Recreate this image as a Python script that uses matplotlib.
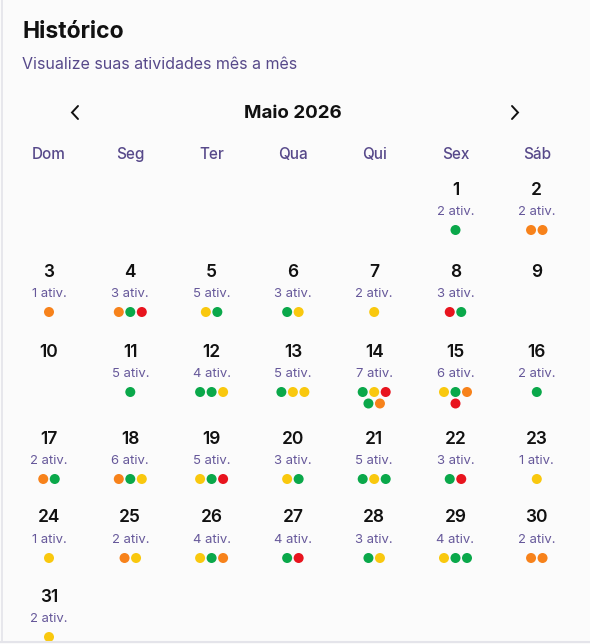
import calendar
import matplotlib
matplotlib.use("Agg")
import matplotlib.pyplot as plt
from matplotlib.patches import Circle

plt.rcParams['font.family'] = ['Inter', 'DejaVu Sans']

# ---- data ----
title = "Histórico"
subtitle = "Visualize suas atividades mês a mês"
month_label = "Maio 2026"
year, month = 2026, 5
weekdays = ["Dom", "Seg", "Ter", "Qua", "Qui", "Sex", "Sáb"]

# activities per day (0 = nothing shown)
counts = [2, 2, 1, 3, 5, 3, 2, 3, 0, 0, 5, 4, 5, 7, 6, 2,
          2, 6, 5, 3, 5, 3, 1, 1, 2, 4, 4, 3, 4, 2, 2]

# G = green, Y = yellow, O = orange, R = red
dots = ["G", "OO", "O", "OGR", "YG", "GY", "Y", "RG", "", "", "G", "GGY",
        "GYY", "GYRGO", "YGOR", "G", "OG", "OGY", "YGR", "YG", "GYG", "GR",
        "Y", "Y", "OY", "YGO", "GR", "GY", "YGG", "OO", "Y"]

dot_colors = {"G": "#0aa84a", "Y": "#f9c80e", "O": "#f7821b", "R": "#e8141e"}

# ---- layout ----
W, H = 590, 644
col_x = [49 + 81.3 * i for i in range(7)]
row_y = [190, 272, 352, 439, 518, 597]
purple = "#57498a"
light_purple = "#66589a"

fig = plt.figure(figsize=(W / 100, H / 100), dpi=100)
fig.patch.set_facecolor("#fbfbfb")
ax = fig.add_axes([0, 0, 1, 1])
ax.set_xlim(0, W)
ax.set_ylim(H, 0)
ax.axis("off")

# card edges
ax.plot([1.5, 1.5], [0, H - 2], color="#e4e4ea", lw=1.2)
ax.plot([0, W], [H - 2, H - 2], color="#e4e4ea", lw=1.5)

ax.text(22, 32, title, fontsize=16.5, fontweight="bold", color="#111111",
        ha="left", va="center")
ax.text(22, 64, subtitle, fontsize=11.5, color=purple, ha="left", va="center")

ax.text(293, 113, month_label, fontsize=13.5, fontweight="bold",
        color="#111111", ha="center", va="center")
ax.plot([78, 72, 78], [106, 112.5, 119], color="#111111", lw=1.4,
        solid_capstyle="round", solid_joinstyle="miter")
ax.plot([512, 518, 512], [106, 112.5, 119], color="#111111", lw=1.4,
        solid_capstyle="round", solid_joinstyle="miter")

for x, wd in zip(col_x, weekdays):
    ax.text(x, 154, wd, fontsize=11, color=purple, ha="center",
            va="center", fontweight="medium")

# ---- days ----
first_wd = (calendar.weekday(year, month, 1) + 1) % 7  # Sunday first
n_days = calendar.monthrange(year, month)[1]
dot_step, dot_r = 11.5, 5.0

for day in range(1, n_days + 1):
    pos = first_wd + day - 1
    col, row = pos % 7, pos // 7
    x, y = col_x[col], row_y[row]
    ax.text(x, y, str(day), fontsize=12.5, fontweight="semibold",
            color="#111111", ha="center", va="center")
    n = counts[day - 1]
    if n:
        ax.text(x, y + 22, f"{n} ativ.", fontsize=9.4, color=light_purple,
                ha="center", va="center")
    d = dots[day - 1]
    lines = [d[i:i + 3] for i in range(0, len(d), 3)]
    for li, line in enumerate(lines):
        cy = y + 40 + li * 11.5
        x0 = x - (len(line) - 1) * dot_step / 2
        for k, c in enumerate(line):
            ax.add_patch(Circle((x0 + k * dot_step, cy), dot_r,
                                color=dot_colors[c], lw=0))

fig.savefig("out.png", dpi=100, facecolor=fig.get_facecolor())
